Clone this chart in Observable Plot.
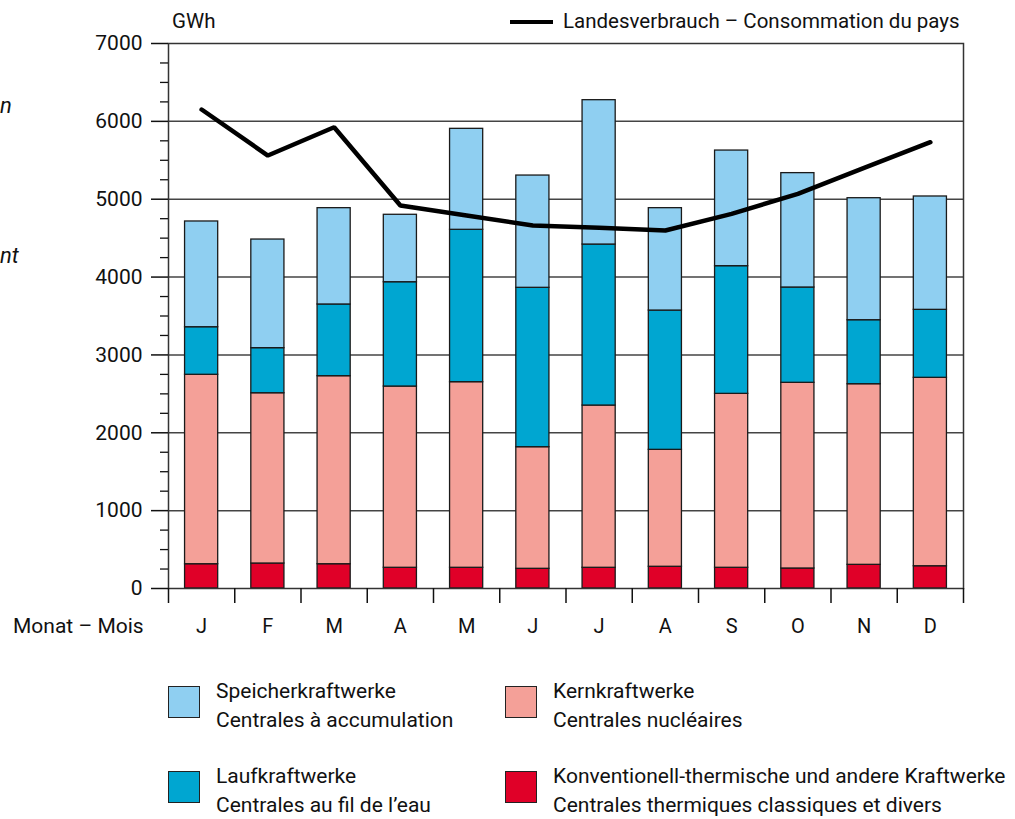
<!DOCTYPE html>
<html><head><meta charset="utf-8">
<script src="https://cdn.jsdelivr.net/npm/d3@7"></script>
<script src="https://cdn.jsdelivr.net/npm/@observablehq/plot@0.6"></script>
<style>
body{margin:0;background:#fff;font-family:Roboto,"Open Sans",sans-serif;color:#111;}
#wrap{position:relative;width:1015px;height:819px;overflow:hidden;}
#chart{position:absolute;left:0;top:0;}
.t{position:absolute;font-size:21px;white-space:nowrap;line-height:24px;}
.sw{position:absolute;width:32px;height:32px;box-sizing:border-box;border:1.5px solid #222;}
.ln{position:absolute;height:4px;background:#000;}
.it{font-style:italic;}
</style></head><body><div id="wrap"><div id="chart"></div></div>
<script>
const months = ["J","F","M","A","M","J","J","A","S","O","N","D"];
const seriesNames = ["Konventionell-thermische und andere Kraftwerke","Kernkraftwerke","Laufkraftwerke","Speicherkraftwerke"];
const seriesColors = ["#e00028","#f4a098","#00a6d1","#8fcff1"];
const thermal  = [312, 321, 312, 266, 266, 253, 266, 279, 266, 257, 304, 286];
const nuclear  = [2433, 2187, 2415, 2328, 2384, 1562, 2084, 1502, 2234, 2385, 2320, 2420];
const runRiver = [611, 579, 921, 1340, 1957, 2047, 2068, 1789, 1640, 1224, 822, 873];
const storage  = [1358, 1395, 1237, 866, 1297, 1442, 1854, 1315, 1485, 1469, 1567, 1456];
const consumption = [6152, 5561, 5925, 4919, 4791, 4662, 4633, 4598, 4812, 5069, 5403, 5732];
const majorTicks = [0,1000,2000,3000,4000,5000,6000,7000];
const minorTicks = d3.range(0, 7001, 250).filter(v => v % 1000 !== 0);
const gridValues = [1000,2000,3000,4000,5000,6000];

const seriesValues = [thermal, nuclear, runRiver, storage];
const stacked = [];
months.forEach((m, i) => {
  let base = 0;
  seriesValues.forEach((arr, s) => {
    stacked.push({i, series: seriesNames[s], y1: base, y2: base + arr[i]});
    base += arr[i];
  });
});
const lineData = consumption.map((v, i) => ({i, v}));
const boundaries = d3.range(0, 13);
const centers = months.map((m, i) => i + 0.5);

const plot = Plot.plot({
  width: 1015, height: 650,
  marginLeft: 168, marginRight: 52, marginTop: 43, marginBottom: 62,
  style: {fontFamily: "Roboto, 'Open Sans', sans-serif", fontSize: "20px", color: "#111", background: "white", overflow: "visible"},
  x: {domain: [0, 12], axis: null},
  y: {domain: [0, 7000], axis: null},
  color: {domain: seriesNames, range: seriesColors},
  marks: [
    Plot.ruleY(gridValues, {stroke: "#444", strokeWidth: 1.5}),
    Plot.rect(stacked, {x1: d => d.i + 0.25, x2: d => d.i + 0.75, y1: "y1", y2: "y2", fill: "series", stroke: "#1a1a1a", strokeWidth: 1.3}),
    Plot.line(lineData, {x: d => d.i + 0.5, y: "v", stroke: "#000", strokeWidth: 4.5, strokeLinejoin: "miter"}),
    Plot.frame({stroke: "#333", strokeWidth: 1.5}),
    Plot.axisY(majorTicks, {tickSize: 17, tickPadding: 9, tickFormat: d => String(d), fontSize: 21, strokeWidth: 1.5}),
    Plot.axisY(minorTicks, {tickSize: 8, tickFormat: () => "", strokeWidth: 1.3}),
    Plot.axisX(boundaries, {tickSize: 15, tickFormat: () => "", strokeWidth: 1.5}),
    Plot.axisX(centers, {tickSize: 0, tickPadding: 30, tickFormat: d => months[Math.round(d - 0.5)], fontSize: 20})
  ]
});
const wrap = document.getElementById("wrap");
document.getElementById("chart").appendChild(plot);

function add(html){ wrap.insertAdjacentHTML("beforeend", html); }
add(`<div class="t" style="left:172px;top:9px;font-size:20.5px;">GWh</div>`);
add(`<div class="ln" style="left:510px;top:20px;width:43px;"></div>`);
add(`<div class="t" style="left:563px;top:9px;font-size:20.5px;">Landesverbrauch – Consommation du pays</div>`);
add(`<div class="t" style="left:13px;top:614px;">Monat – Mois</div>`);
add(`<div class="t it" style="left:0px;top:94px;font-size:22px;">n</div>`);
add(`<div class="t it" style="left:0px;top:244px;font-size:22px;">nt</div>`);

const legendItems = [
  {s: 3, de: "Speicherkraftwerke", fr: "Centrales à accumulation", x: 168, y: 686},
  {s: 1, de: "Kernkraftwerke", fr: "Centrales nucléaires", x: 505, y: 686},
  {s: 2, de: "Laufkraftwerke", fr: "Centrales au fil de l’eau", x: 168, y: 771},
  {s: 0, de: "Konventionell-thermische und andere Kraftwerke", fr: "Centrales thermiques classiques et divers", x: 505, y: 771}
];
legendItems.forEach(it => {
  add(`<div class="sw" style="left:${it.x}px;top:${it.y}px;background:${seriesColors[it.s]};"></div>`);
  add(`<div class="t" style="left:${it.x + 48}px;top:${it.y - 7}px;">${it.de}</div>`);
  add(`<div class="t" style="left:${it.x + 48}px;top:${it.y + 22}px;">${it.fr}</div>`);
});
</script></body></html>
